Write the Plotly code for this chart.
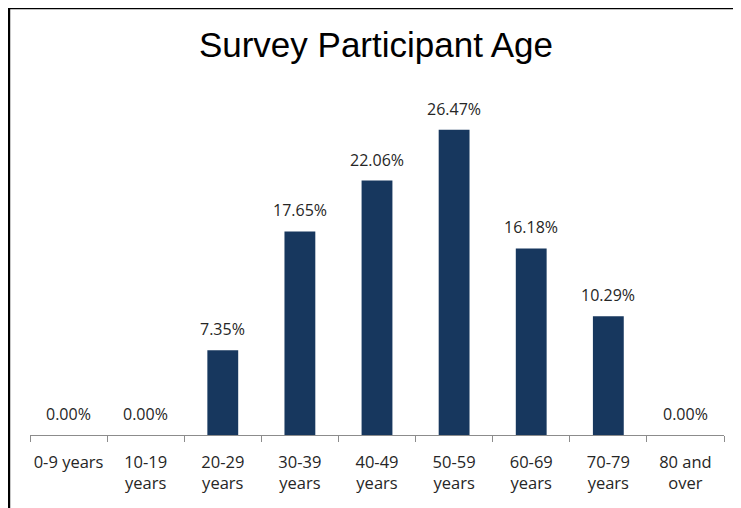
import plotly.graph_objects as go

categories = ["0-9 years", "10-19<br>years", "20-29<br>years", "30-39<br>years", "40-49<br>years",
              "50-59<br>years", "60-69<br>years", "70-79<br>years", "80 and<br>over"]
values = [0.00, 0.00, 7.35, 17.65, 22.06, 26.47, 16.18, 10.29, 0.00]
labels = [f"{v:.2f}%" for v in values]

label_font = dict(family="Open Sans, sans-serif", size=16, color="#262626")
tick_font = dict(family="Open Sans, sans-serif", size=16.5, color="#262626")

fig = go.Figure(go.Bar(
    x=categories, y=values,
    marker=dict(color="#17375E", line=dict(width=0)),
    width=0.4, cliponaxis=False,
))

annotations = [dict(x=c, y=v, text=t, xref="x", yref="y", showarrow=False,
                    yanchor="bottom", yshift=8, font=label_font)
               for c, v, t in zip(categories, values, labels)]

fig.update_layout(
    width=733, height=500,
    paper_bgcolor="white", plot_bgcolor="white",
    margin=dict(l=22, r=17, t=81, b=73, autoexpand=False),
    title=dict(text="Survey Participant Age", x=0.502, xanchor="center", y=0.926, yanchor="middle",
               font=dict(family="Liberation Sans, Arial, sans-serif", size=35, color="black")),
    showlegend=False,
    annotations=annotations,
    xaxis=dict(type="category", range=[-0.5, 8.5], showline=True, linecolor="#8c8c8c", linewidth=1,
               ticks="outside", tickson="boundaries", ticklen=6, tickcolor="#8c8c8c",
               ticklabelstandoff=12, tickangle=0, automargin=False,
               tickfont=tick_font,
               showgrid=False, fixedrange=True),
    yaxis=dict(range=[0, 30], visible=False, showgrid=False, fixedrange=True),
    shapes=[dict(type="rect", xref="paper", yref="paper",
                 x0=-0.0303, x1=1.2, y0=-0.5, y1=1.234,
                 line=dict(color="black", width=2.5), fillcolor="rgba(0,0,0,0)", layer="above")],
)

fig.write_html("out.html")
